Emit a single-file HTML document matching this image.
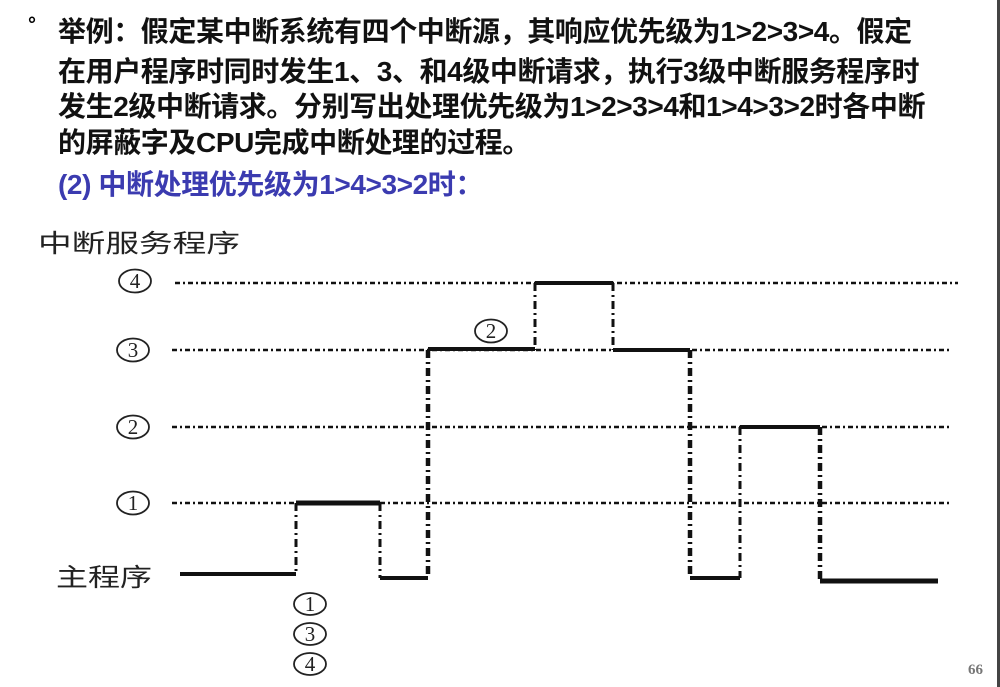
<!DOCTYPE html>
<html><head><meta charset="utf-8"><style>
html,body{margin:0;padding:0;background:#fff;}
body{width:1000px;height:687px;position:relative;overflow:hidden;font-family:"Liberation Sans","Noto Sans CJK SC",sans-serif;}
.t{position:absolute;left:58px;font-size:28px;font-weight:bold;color:#111;white-space:nowrap;letter-spacing:-0.4px;line-height:34px;}
.edge{position:absolute;right:0;top:0;width:3px;height:687px;background:#444;}
</style></head><body>
<div style="position:absolute;left:28px;top:14px;font-size:20px;font-weight:bold;">°</div>
<div class="t" style="top:15px">举例：假定某中断系统有四个中断源，其响应优先级为1>2>3>4。假定</div>
<div class="t" style="top:55px">在用户程序时同时发生1、3、和4级中断请求，执行3级中断服务程序时</div>
<div class="t" style="top:90px">发生2级中断请求。分别写出处理优先级为1>2>3>4和1>4>3>2时各中断</div>
<div class="t" style="top:126px">的屏蔽字及CPU完成中断处理的过程。</div>
<div class="t" style="top:168px;color:#3b3bb0;">(2) 中断处理优先级为1>4>3>2时：</div>
<div class="edge"></div>
<svg width="1000" height="687" style="position:absolute;left:0;top:0">
<g font-family="Liberation Sans,Noto Sans CJK SC,sans-serif" font-size="25" fill="#222">
<text x="38" y="252" textLength="202" lengthAdjust="spacingAndGlyphs">中断服务程序</text>
<text x="56" y="586" textLength="96" lengthAdjust="spacingAndGlyphs">主程序</text>
</g>
<g fill="none" stroke="#222" stroke-width="1.8">
<ellipse cx="135" cy="281" rx="16" ry="11.5"/>
<ellipse cx="133" cy="350" rx="16" ry="11.5"/>
<ellipse cx="133" cy="427" rx="16" ry="11.5"/>
<ellipse cx="133" cy="503" rx="16" ry="11.5"/>
<ellipse cx="491" cy="331" rx="16" ry="11.5"/>
<ellipse cx="310" cy="604" rx="16" ry="11"/>
<ellipse cx="310" cy="634" rx="16" ry="11"/>
<ellipse cx="310" cy="664" rx="16" ry="11"/>
</g>
<g font-family="Liberation Serif,serif" font-size="21" fill="#222" text-anchor="middle">
<text x="135" y="288">4</text>
<text x="133" y="357">3</text>
<text x="133" y="434">2</text>
<text x="133" y="510">1</text>
<text x="491" y="338">2</text>
<text x="310" y="611">1</text>
<text x="310" y="641">3</text>
<text x="310" y="671">4</text>
</g>
<text x="968" y="674" font-family="Liberation Serif,serif" font-size="15" font-weight="bold" fill="#777">66</text>
<g stroke="#111" stroke-width="2.5" stroke-dasharray="5 3 2 3">
<line x1="175" y1="283" x2="958" y2="283"/>
<line x1="172" y1="350" x2="952" y2="350"/>
<line x1="172" y1="427" x2="952" y2="427"/>
<line x1="172" y1="503" x2="950" y2="503"/>
</g>
<g stroke="#111" stroke-width="3" stroke-dasharray="8 4 2 4">
<line x1="296" y1="503" x2="296" y2="575"/>
<line x1="380" y1="503" x2="380" y2="578"/>
<line x1="535" y1="283" x2="535" y2="350"/>
<line x1="613" y1="283" x2="613" y2="350"/>
<line x1="740" y1="427" x2="740" y2="578"/>
</g>
<g stroke="#111" stroke-width="4.5" stroke-dasharray="8 4 2 4">
<line x1="428" y1="350" x2="428" y2="578"/>
<line x1="690" y1="350" x2="690" y2="578"/>
<line x1="820" y1="427" x2="820" y2="580"/>
</g>
<g stroke="#111" stroke-width="4" fill="none">
<line x1="180" y1="574" x2="296" y2="574"/>
<line x1="296" y1="503" x2="380" y2="503" stroke-width="5"/>
<line x1="380" y1="578" x2="428" y2="578"/>
<line x1="428" y1="349" x2="535" y2="349"/>
<line x1="535" y1="283" x2="613" y2="283"/>
<line x1="613" y1="350" x2="690" y2="350"/>
<line x1="690" y1="578" x2="740" y2="578"/>
<line x1="740" y1="427" x2="820" y2="427"/>
<line x1="820" y1="581" x2="938" y2="581" stroke-width="5"/>
</g>
</svg>
</body></html>
